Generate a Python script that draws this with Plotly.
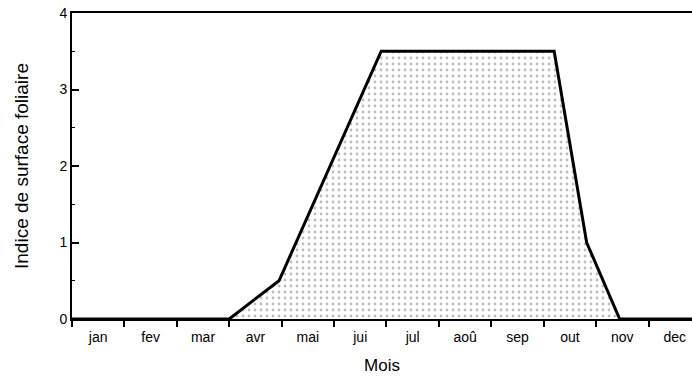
import plotly.graph_objects as go

# Data (months as continuous position, 0 = start of January)
x_vals = [0.0, 3.0, 3.95, 5.9, 9.2, 9.82, 10.45, 11.83]
lai_vals = [0.0, 0.0, 0.5, 3.5, 3.5, 1.0, 0.0, 0.0]
month_labels = ["jan", "fev", "mar", "avr", "mai", "jui", "jul", "aoû", "sep", "out", "nov", "dec"]
label_pos = [i + 0.5 for i in range(12)]

fig = go.Figure()
fig.add_trace(go.Scatter(
    x=x_vals, y=lai_vals, mode="lines",
    line=dict(color="black", width=3),
    fill="tozeroy",
    fillcolor="white",
    fillpattern=dict(shape=".", fgcolor="#7a7a7a", bgcolor="white", size=6, solidity=0.18),
    showlegend=False,
    hoverinfo="skip",
))

font = dict(family="Liberation Sans, Arial, sans-serif", color="black")

fig.update_layout(
    width=692, height=380,
    margin=dict(l=72, r=0, t=13, b=61),
    paper_bgcolor="white", plot_bgcolor="white",
    font=dict(**font, size=13),
    xaxis=dict(
        range=[0, 11.83],
        tickmode="array", tickvals=label_pos, ticktext=month_labels,
        ticks="outside", ticklen=4, tickcolor="rgba(0,0,0,0)",
        minor=dict(tickmode="linear", tick0=0, dtick=1, ticks="outside", ticklen=6, tickwidth=2, tickcolor="black"),
        showline=True, linecolor="black", linewidth=2, mirror=True,
        showgrid=False, zeroline=False,
        tickfont=dict(size=14),
        title=dict(text="Mois", font=dict(size=17), standoff=15),
        automargin=False,
    ),
    yaxis=dict(
        range=[0, 4],
        tickmode="array", tickvals=[0, 1, 2, 3, 4],
        ticks="inside", ticklen=7, tickwidth=2, tickcolor="black",
        minor=dict(tickmode="array", tickvals=[0.5, 1.5, 2.5, 3.5], ticks="inside", ticklen=3, tickwidth=1, tickcolor="black"),
        showline=True, linecolor="black", linewidth=2,
        showgrid=False, zeroline=False,
        tickfont=dict(size=14),
        title=dict(text="Indice de surface foliaire", font=dict(size=19), standoff=26),
        automargin=False,
    ),
)

fig.write_html(
    "out.html",
    config={"displayModeBar": False},
    post_script="document.body.style.margin='0';document.body.style.overflow='hidden';",
)
